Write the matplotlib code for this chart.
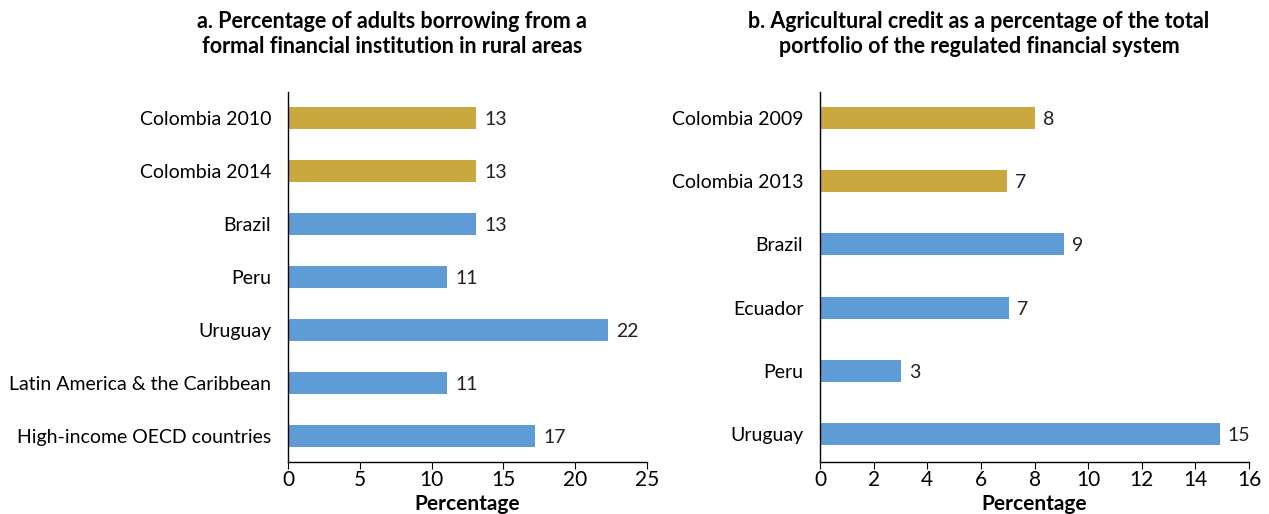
import numpy as np
import matplotlib.pyplot as plt

plt.rcParams['font.family'] = ['Lato', 'DejaVu Sans']

# panel a
cats_a = ["Colombia 2010", "Colombia 2014", "Brazil", "Peru", "Uruguay",
          "Latin America & the Caribbean", "High-income OECD countries"]
vals_a = [13.1, 13.1, 13.1, 11.1, 22.3, 11.1, 17.2]
labels_a = ["13", "13", "13", "11", "22", "11", "17"]

# panel b
cats_b = ["Colombia 2009", "Colombia 2013", "Brazil", "Ecuador", "Peru", "Uruguay"]
vals_b = [8.0, 6.98, 9.1, 7.05, 3.02, 14.9]
labels_b = ["8", "7", "9", "7", "3", "15"]

GOLD = "#C9A93F"
BLUE = "#5F9BD5"

fig = plt.figure(figsize=(12.69, 5.14), dpi=100)
W, H = 1269, 514


def panel(box, cats, vals, labels, xmax, xstep, height, ylim):
    l, t, r, b = box
    ax = fig.add_axes([l / W, 1 - b / H, (r - l) / W, (b - t) / H])
    y = np.arange(len(cats))
    colors = [GOLD if c.startswith("Colombia") else BLUE for c in cats]
    ax.barh(y, vals, height=height, color=colors)
    for yi, v, s in zip(y, vals, labels):
        ax.annotate(s, (v, yi), xytext=(6, -1), textcoords="offset points",
                    va="center", ha="left", fontsize=14, color="#222222")
    ax.set_yticks(y)
    ax.set_yticklabels(cats, fontsize=14)
    ax.set_ylim(*ylim)
    ax.set_xlim(0, xmax)
    ax.set_xticks(np.arange(0, xmax + 0.01, xstep))
    ax.tick_params(axis="x", labelsize=15, length=5, direction="out", pad=1)
    ax.tick_params(axis="y", length=0, pad=12)
    ax.set_xlabel("Percentage", fontsize=15, fontweight="bold", labelpad=3)
    for s in ["top", "right"]:
        ax.spines[s].set_visible(False)
    for s in ["left", "bottom"]:
        ax.spines[s].set_linewidth(1.0)
    return ax


panel((288, 92, 647, 462), cats_a, vals_a, labels_a, 25, 5, 0.41, (6.49, -0.49))
panel((820, 92, 1249, 462), cats_b, vals_b, labels_b, 16, 2, 0.35, (5.44, -0.41))

fig.text(392 / W, 1 - 34 / H,
         "a. Percentage of adults borrowing from a\nformal financial institution in rural areas",
         ha="center", va="center", fontsize=15.5, fontweight="bold", linespacing=1.2)
fig.text(979 / W, 1 - 34 / H,
         "b. Agricultural credit as a percentage of the total\nportfolio of the regulated financial system",
         ha="center", va="center", fontsize=15.5, fontweight="bold", linespacing=1.2)

fig.savefig("out.png", dpi=100)
